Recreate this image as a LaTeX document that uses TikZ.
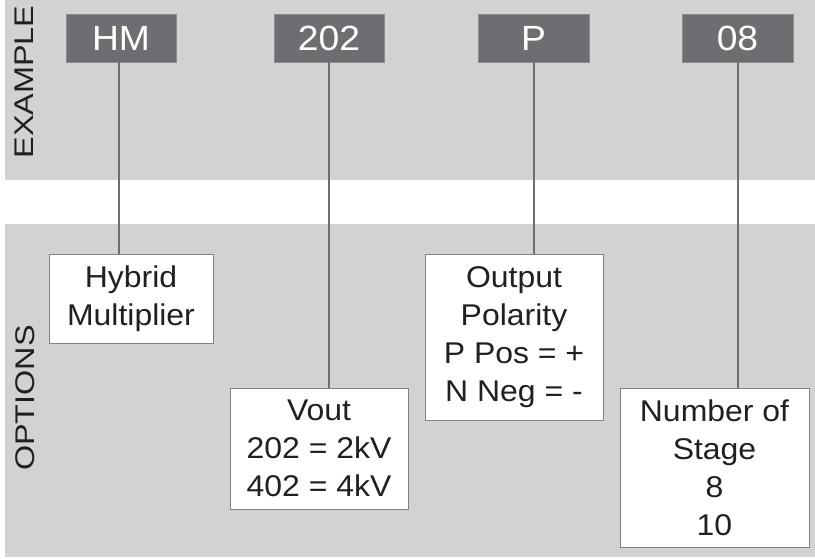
\documentclass[tikz,border=0pt]{standalone}
\usepackage{fontspec}
\setmainfont[FakeStretch=1.065]{Liberation Sans}
\newfontfamily\sidefont[FakeStretch=1.2]{Liberation Sans}
\definecolor{band}{HTML}{D1D2D4}
\definecolor{dark}{HTML}{6D6E71}
\definecolor{txt}{HTML}{231F20}
\definecolor{bord}{HTML}{808285}
\begin{document}
\begin{tikzpicture}[x=1pt,y=-1pt,
  codebox/.style={fill=dark,draw=dark!80,line width=0.8pt,minimum width=110pt,minimum height=48pt,inner sep=0pt,text=white,font=\fontsize{35}{40}\selectfont},
  optbox/.style={fill=white,draw=bord,line width=1pt,inner sep=0pt,align=center,text=txt,font=\fontsize{30}{38}\selectfont},
  side/.style={rotate=90,text=txt,font=\sidefont\fontsize{27}{30}\selectfont,inner sep=0pt},
  conn/.style={draw=dark,line width=2pt}]
\useasboundingbox (0,0) rectangle (815,558);
\fill[band] (5,0) rectangle (815,180);
\fill[band] (5,224) rectangle (815,557);
\node[side] (ex) at (24,82) {EXAMPLE};
\node[side] (op) at (25,398) {OPTIONS};
\node[codebox] (hm) at (121,38) {HM};
\node[codebox] (c202) at (329,38) {202};
\node[codebox,minimum width=111pt] (p) at (533.5,38) {P};
\node[codebox,minimum width=111pt] (c08) at (737.5,38) {08};
\node[optbox,minimum width=164pt,minimum height=89pt] (hyb) at (131,298.5) {Hybrid\\Multiplier};
\node[optbox,minimum width=178pt,minimum height=121pt] (vout) at (319,448.5) {Vout\\202 = 2kV\\402 = 4kV};
\node[optbox,minimum width=178pt,minimum height=166pt] (pol) at (514,337) {Output\\Polarity\\P Pos = +\\N Neg = -};
\node[optbox,minimum width=189pt,minimum height=159pt] (num) at (714.5,467.5) {Number of\\Stage\\8\\10};
\coordinate (a1) at ([xshift=-2pt]hm.south);
\draw[conn] (a1) -- (a1 |- hyb.north);
\draw[conn] (c202.south) -- (c202.south |- vout.north);
\draw[conn] (p.south) -- (p.south |- pol.north);
\draw[conn] (c08.south) -- (c08.south |- num.north);
\end{tikzpicture}
\end{document}
